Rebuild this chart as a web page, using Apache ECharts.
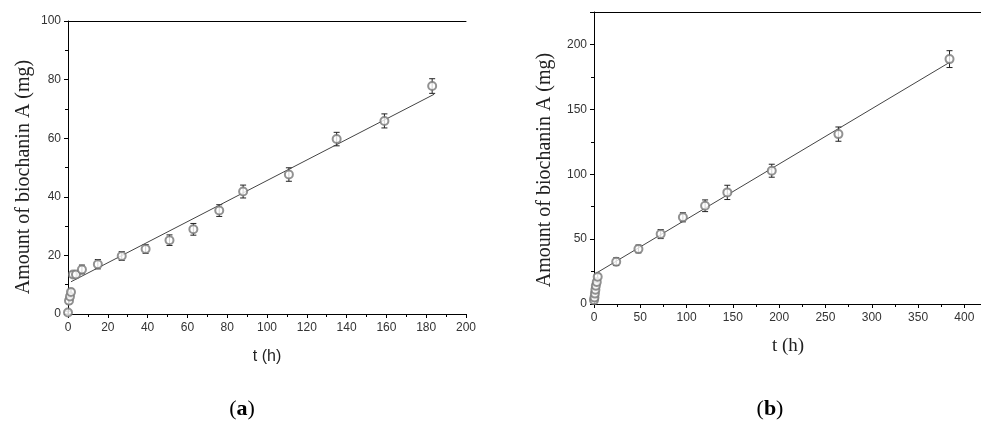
<!DOCTYPE html>
<html>
<head>
<meta charset="utf-8">
<title>biochanin A</title>
<script src="https://cdn.jsdelivr.net/npm/echarts@6/dist/echarts.min.js"></script>
<style>
  html, body { margin: 0; padding: 0; background: #fff; }
  #chart { width: 981px; height: 423px; }
</style>
</head>
<body>
<div id="chart"></div>
<script>
// panel (a)
const tA = [0, 0.5, 1, 1.5, 2.5, 4, 7, 15, 27, 39, 51, 63, 76, 88, 111, 135, 159, 183];
const yA = [0.5, 4.5, 6, 7.5, 13.5, 13.5, 15.2, 17, 19.8, 22.2, 25.2, 28.9, 35.3, 41.8, 47.6, 59.7, 65.9, 77.8];
const errA = [0.5, 1, 1, 1, 1, 1, 1.5, 1.6, 1.5, 1.5, 1.8, 2, 2, 2.2, 2.3, 2.3, 2.4, 2.5];
const fitTA = [1.5, 184];
const fitYA = [11, 75];

// panel (b)
const tB = [0, 0.5, 1, 1.5, 2, 3, 4, 24, 48, 72, 96, 120, 144, 192, 264, 384];
const yB = [3, 5, 8, 11, 14, 17, 21, 32.6, 42.4, 53.9, 66.8, 75.7, 86, 102.7, 130.9, 188.7];
const errB = [1, 1, 1, 1, 1.5, 1.5, 2, 3, 3, 3.5, 3.5, 4.5, 5.5, 5, 5.5, 6.5];
const fitTB = [2, 385];
const fitYB = [23.6, 186.6];

const ink = '#222';
const tickFont = { fontFamily: 'Liberation Sans', fontSize: 12, color: '#333' };

function zip3(a, b, c) { return a.map((v, i) => [v, b[i], c[i]]); }

function errBars(params, api) {
  const x = api.value(0), y = api.value(1), e = api.value(2);
  const hi = api.coord([x, y + e]);
  const lo = api.coord([x, y - e]);
  const w = 3;
  const st = { stroke: ink, lineWidth: 1 };
  return {
    type: 'group',
    children: [
      { type: 'line', shape: { x1: hi[0], y1: hi[1], x2: lo[0], y2: lo[1] }, style: st },
      { type: 'line', shape: { x1: hi[0] - w, y1: hi[1], x2: hi[0] + w, y2: hi[1] }, style: st },
      { type: 'line', shape: { x1: lo[0] - w, y1: lo[1], x2: lo[0] + w, y2: lo[1] }, style: st }
    ]
  };
}

function xAx(grid, max, interval, top) {
  return {
    type: 'value', gridIndex: grid, min: 0, max: max, interval: interval,
    position: top ? 'top' : 'bottom',
    axisLine: { show: true, lineStyle: { color: '#000', width: 1 } },
    axisTick: { show: !top, length: 4, lineStyle: { color: '#000' } },
    minorTick: { show: !top, splitNumber: 2, length: 3, lineStyle: { color: '#000' } },
    axisLabel: Object.assign({ show: !top, margin: 8, showMaxLabel: grid === 0 }, tickFont),
    splitLine: { show: false }
  };
}

function yAx(grid, max, interval) {
  return {
    type: 'value', gridIndex: grid, min: 0, max: max, interval: interval,
    axisLine: { show: true, lineStyle: { color: '#000', width: 1 } },
    axisTick: { show: true, length: 4, lineStyle: { color: '#000' } },
    minorTick: { show: true, splitNumber: 2, length: 3, lineStyle: { color: '#000' } },
    axisLabel: Object.assign({ margin: 7, showMaxLabel: grid === 0 }, tickFont),
    splitLine: { show: false }
  };
}

function panelSeries(idx, t, y, err, ft, fy) {
  const xi = idx * 2;
  return [
    {
      type: 'line', xAxisIndex: xi, yAxisIndex: idx, showSymbol: false, silent: true,
      data: ft.map((v, i) => [v, fy[i]]),
      lineStyle: { color: '#444', width: 1 }
    },
    {
      type: 'custom', xAxisIndex: xi, yAxisIndex: idx, renderItem: errBars,
      data: zip3(t, y, err), encode: { x: 0, y: [1, 2] }, z: 3
    },
    {
      type: 'scatter', xAxisIndex: xi, yAxisIndex: idx, symbol: 'emptyCircle', symbolSize: 8,
      data: t.map((v, i) => [v, y[i]]),
      itemStyle: { color: '#777', borderColor: '#777', borderWidth: 1 }, z: 4
    }
  ];
}

const chart = echarts.init(document.getElementById('chart'), null, { renderer: 'canvas' });

chart.setOption({
  animation: false,
  backgroundColor: '#fff',
  grid: [
    { left: 68, right: 515, top: 21, bottom: 109 },
    { left: 594, right: 0, top: 12, bottom: 119 }
  ],
  xAxis: [
    xAx(0, 200, 20, false), xAx(0, 200, 20, true),
    xAx(1, 418, 50, false), xAx(1, 418, 50, true)
  ],
  yAxis: [yAx(0, 100, 20), yAx(1, 225, 50)],
  series: [].concat(
    panelSeries(0, tA, yA, errA, fitTA, fitYA),
    panelSeries(1, tB, yB, errB, fitTB, fitYB)
  ),
  graphic: [
    {
      type: 'text', x: 24, y: 177, rotation: Math.PI / 2,
      style: { text: 'Amount of biochanin A (mg)', font: '20px "Liberation Serif"', fill: '#222', align: 'center', verticalAlign: 'middle' }
    },
    {
      type: 'text', x: 545, y: 170, rotation: Math.PI / 2,
      style: { text: 'Amount of biochanin A (mg)', font: '20px "Liberation Serif"', fill: '#222', align: 'center', verticalAlign: 'middle' }
    },
    {
      type: 'text', x: 267, y: 357,
      style: { text: 't (h)', font: '16px "Liberation Sans"', fill: '#222', align: 'center', verticalAlign: 'middle' }
    },
    {
      type: 'text', x: 788, y: 346,
      style: { text: 't (h)', font: '19px "Liberation Serif"', fill: '#222', align: 'center', verticalAlign: 'middle' }
    },
    {
      type: 'text', x: 242, y: 409,
      style: {
        text: '{p|(}{b|a}{p|)}', align: 'center', verticalAlign: 'middle',
        rich: {
          p: { font: '22px "Liberation Serif"', fill: '#000' },
          b: { font: 'bold 22px "Liberation Serif"', fill: '#000' }
        }
      }
    },
    {
      type: 'text', x: 770, y: 409,
      style: {
        text: '{p|(}{b|b}{p|)}', align: 'center', verticalAlign: 'middle',
        rich: {
          p: { font: '22px "Liberation Serif"', fill: '#000' },
          b: { font: 'bold 22px "Liberation Serif"', fill: '#000' }
        }
      }
    }
  ]
});
</script>
</body>
</html>
